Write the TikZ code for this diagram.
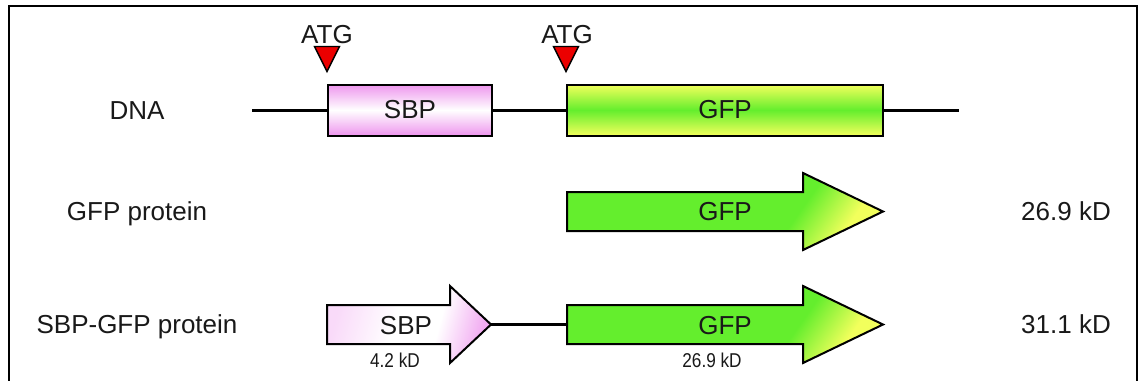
\documentclass[tikz,border=0pt]{standalone}
\usepackage{fontspec}
\setmainfont{Liberation Sans}
\newfontfamily\narrowsans[FakeStretch=0.86]{Liberation Sans}
\definecolor{gfpgreen}{RGB}{100,238,45}
\definecolor{gfpyellow}{RGB}{242,255,92}
\definecolor{sbppink}{RGB}{238,150,238}
\definecolor{atgred}{RGB}{235,0,0}
\definecolor{ink}{RGB}{25,25,25}
% fills of the two protein arrows (TikZ maps 25bp..75bp onto the path)
\pgfdeclarehorizontalshading{gfpflow}{100bp}{color(0bp)=(gfpgreen); color(25bp)=(gfpgreen); color(64bp)=(gfpgreen); color(75bp)=(gfpyellow); color(100bp)=(gfpyellow)}
\pgfdeclarehorizontalshading{sbpflow}{100bp}{color(0bp)=(sbppink!35); color(25bp)=(sbppink!35); color(45bp)=(white); color(60bp)=(white); color(75bp)=(sbppink!80); color(100bp)=(sbppink!80)}
\begin{document}
\begin{tikzpicture}[x=0.5pt,y=-0.5pt,
  txt/.style={font=\fontsize{13}{15}\selectfont, text=ink, anchor=base, inner sep=0pt},
  kd/.style={font=\narrowsans\fontsize{10}{12}\selectfont, text=ink, anchor=base, inner sep=0pt},
  frame/.style={line width=1pt},
  dnaline/.style={line width=1.5pt},
  genebox/.style={draw, line width=1pt, minimum height=25.5pt, inner sep=0pt,
    font=\fontsize{13}{15}\selectfont, text=ink},
  sbpbox/.style={genebox, top color=sbppink, bottom color=sbppink, middle color=white, minimum width=82pt},
  gfpbox/.style={genebox, top color=gfpyellow, bottom color=gfpyellow, middle color=gfpgreen, minimum width=158pt},
  gfparrow/.style={draw, line width=1pt, line join=miter, shade, shading=gfpflow, shading angle=-35},
  sbparrow/.style={draw, line width=1pt, line join=miter, shade, shading=sbpflow, shading angle=-15},
  atg/.style={draw, line width=0.7pt, fill=atgred, line join=miter}]
\useasboundingbox (0,0) rectangle (1139,380);
\clip (0,0) rectangle (1139,380);
\fill[white] (0,0) rectangle (1139,380);

% outer frame, open at the bottom
\draw[frame] (9,381) -- (9,6) -- (1137,6) -- (1137,381);

% ---- DNA construct ----
\node[txt] (dnalbl) at (137,119) {DNA};
\coordinate (dnaL) at (252,110);
\coordinate (dnaR) at (959,110);
\node[sbpbox] (sbpgene) at (410,110) {SBP};
\node[gfpbox] (gfpgene) at (725,110) {GFP};
\draw[dnaline] (dnaL) -- (sbpgene.west);
\draw[dnaline] (sbpgene.east) -- (gfpgene.west);
\draw[dnaline] (gfpgene.east) -- (dnaR);

% start codons
\path (sbpgene.north west) ++(0,-12) coordinate (atgtip1);
\path (gfpgene.north west) ++(0,-12) coordinate (atgtip2);
\draw[atg] (atgtip1) -- ++(-12.5,-25) -- ++(25,0) -- cycle;
\draw[atg] (atgtip2) -- ++(-12.5,-25) -- ++(25,0) -- cycle;
\node[txt] (atglbl1) at (327,43) {ATG};
\node[txt] (atglbl2) at (567,43) {ATG};

% ---- GFP protein ----
\node[txt] (gfplbl) at (137,220) {GFP protein};
\draw[gfparrow] (567,192) -- (803,192) -- (803,173) -- (883,211.5)
  -- (803,250) -- (803,231) -- (567,231) -- cycle;
\node[txt] (gfpprot) at (725,220) {GFP};
\node[txt] (gfpmass) at (1066,220) {26.9 kD};

% ---- SBP-GFP fusion protein ----
\node[txt] (fuslbl) at (137,333) {SBP-GFP protein};
\draw[sbparrow] (327,305) -- (450,305) -- (450,286) -- (491,324.5)
  -- (450,363) -- (450,344) -- (327,344) -- cycle;
\draw[gfparrow] (567,305) -- (803,305) -- (803,286) -- (883,324.5)
  -- (803,363) -- (803,344) -- (567,344) -- cycle;
\coordinate (sbptip) at (491,324.5);
\coordinate (gfptail) at (567,324.5);
\draw[dnaline] (sbptip) -- (gfptail);
\node[txt] (fussbp) at (406,334) {SBP};
\node[txt] (fusgfp) at (725,334) {GFP};
\node[kd] (sbpmass) at (395,367) {4.2 kD};
\node[kd] (gfpmass2) at (712,367) {26.9 kD};
\node[txt] (fusmass) at (1066,333) {31.1 kD};
\end{tikzpicture}
\end{document}
